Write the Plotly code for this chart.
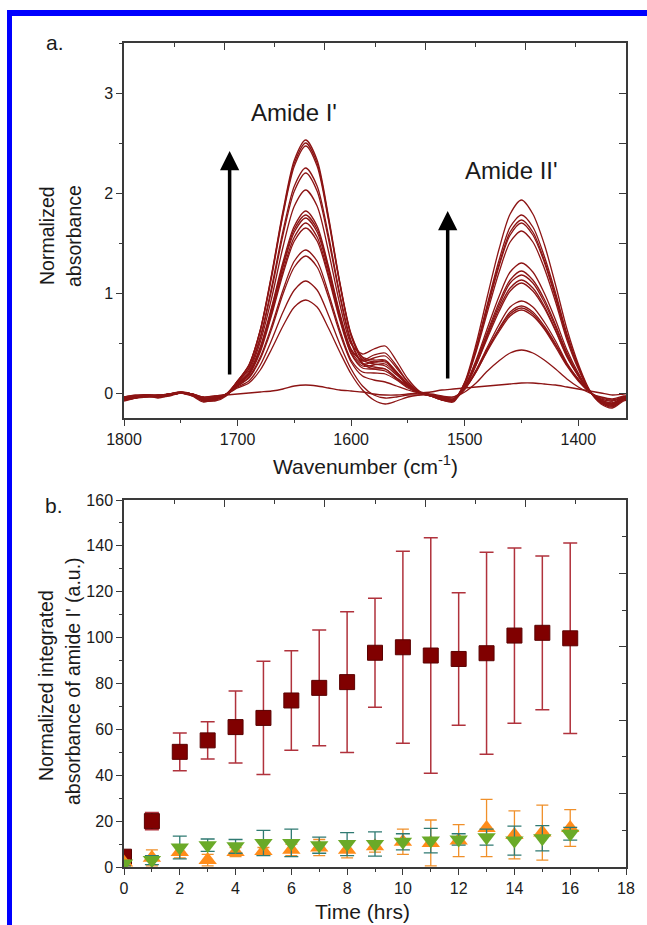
import plotly.graph_objects as go

W, H = 647, 925
def px(x): return x / W
def py(y): return 1 - y / H

FONT = "Liberation Sans, Arial, sans-serif"
TXT = "#1a1a1a"
AX = "#3a3a3a"

# ---------------- panel a: spectra ----------------
wavenumber = [1800,1790,1780,1770,1760,1750,1740,1730,1720,1710,
              1700,1690,1680,1670,1660,1650,1640,1630,1620,1610,
              1600,1590,1580,1570,1560,1550,1540,1530,1520,1510,
              1500,1490,1480,1470,1460,1450,1440,1430,1420,1410,
              1400,1390,1380,1370,1360,1350]

s01 = [-0.07,-0.05,-0.03,-0.04,-0.02,0.00,-0.02,-0.08,-0.07,-0.02, 0.12,0.28,0.63,1.19,1.82,2.33,2.53,2.33,1.77,1.11, 0.59,0.36,0.33,0.33,0.21,0.09,0.00,-0.03,-0.07,-0.08, 0.11,0.49,0.97,1.43,1.79,1.93,1.79,1.49,1.08,0.64, 0.29,0.03,-0.10,-0.14,-0.07,-0.04]
s02 = [-0.06,-0.04,-0.04,-0.03,-0.01,0.01,-0.03,-0.09,-0.06,-0.01, 0.12,0.28,0.63,1.18,1.80,2.30,2.50,2.30,1.75,1.10, 0.58,0.35,0.31,0.31,0.20,0.08,0.00,-0.03,-0.07,-0.08, 0.10,0.45,0.89,1.32,1.66,1.78,1.66,1.37,1.00,0.59, 0.27,0.02,-0.10,-0.13,-0.06,-0.03]
s03 = [-0.08,-0.05,-0.02,-0.04,-0.03,0.00,-0.02,-0.07,-0.08,-0.03, 0.12,0.27,0.62,1.16,1.78,2.27,2.47,2.27,1.73,1.09, 0.57,0.33,0.29,0.27,0.18,0.08,0.00,-0.03,-0.07,-0.09, 0.09,0.44,0.87,1.28,1.61,1.73,1.61,1.33,0.97,0.57, 0.26,0.02,-0.11,-0.15,-0.08,-0.05]
s04 = [-0.06,-0.05,-0.03,-0.03,-0.02,0.00,-0.01,-0.07,-0.06,-0.02, 0.11,0.25,0.56,1.06,1.62,2.07,2.25,2.07,1.58,0.99, 0.52,0.30,0.26,0.24,0.15,0.07,0.00,-0.03,-0.06,-0.07, 0.10,0.43,0.85,1.26,1.58,1.70,1.58,1.31,0.95,0.56, 0.26,0.02,-0.09,-0.13,-0.06,-0.04]
s05 = [-0.07,-0.04,-0.03,-0.05,-0.02,0.01,-0.02,-0.08,-0.06,-0.01, 0.11,0.24,0.55,1.03,1.58,2.02,2.20,2.02,1.54,0.97, 0.50,0.29,0.24,0.22,0.14,0.06,0.00,-0.03,-0.06,-0.08, 0.09,0.41,0.81,1.20,1.51,1.62,1.51,1.25,0.91,0.53, 0.24,0.02,-0.09,-0.12,-0.07,-0.03]
s06 = [-0.05,-0.04,-0.03,-0.03,-0.02,0.00,-0.02,-0.06,-0.06,-0.02, 0.10,0.22,0.51,0.95,1.46,1.87,2.03,1.87,1.42,0.89, 0.49,0.39,0.44,0.47,0.32,0.14,0.02,-0.02,-0.06,-0.07, 0.07,0.33,0.65,0.96,1.21,1.30,1.21,1.00,0.73,0.43, 0.20,0.02,-0.08,-0.11,-0.06,-0.03]
s07 = [-0.07,-0.05,-0.02,-0.04,-0.01,0.00,-0.03,-0.07,-0.05,-0.01, 0.09,0.20,0.46,0.86,1.31,1.67,1.82,1.67,1.27,0.80, 0.44,0.32,0.35,0.37,0.25,0.11,0.01,-0.02,-0.06,-0.07, 0.06,0.31,0.61,0.90,1.13,1.22,1.13,0.94,0.68,0.40, 0.18,0.01,-0.08,-0.11,-0.05,-0.03]
s08 = [-0.06,-0.05,-0.04,-0.03,-0.02,0.00,-0.01,-0.07,-0.07,-0.02, 0.09,0.20,0.45,0.84,1.28,1.64,1.78,1.64,1.25,0.78, 0.43,0.33,0.38,0.40,0.27,0.11,0.01,-0.02,-0.06,-0.07, 0.05,0.30,0.59,0.87,1.10,1.18,1.10,0.91,0.66,0.39, 0.18,0.01,-0.08,-0.12,-0.06,-0.02]
s09 = [-0.05,-0.03,-0.03,-0.03,-0.01,0.00,-0.02,-0.06,-0.05,-0.02, 0.08,0.19,0.44,0.82,1.26,1.61,1.75,1.61,1.23,0.77, 0.42,0.29,0.31,0.32,0.21,0.09,0.01,-0.02,-0.05,-0.06, 0.06,0.28,0.57,0.84,1.05,1.13,1.05,0.87,0.63,0.37, 0.17,0.01,-0.07,-0.10,-0.05,-0.02]
s10 = [-0.06,-0.04,-0.02,-0.04,-0.02,0.01,-0.01,-0.06,-0.06,-0.01, 0.08,0.19,0.43,0.80,1.22,1.56,1.70,1.56,1.19,0.75, 0.40,0.27,0.28,0.29,0.19,0.08,0.01,-0.02,-0.05,-0.06, 0.05,0.28,0.55,0.81,1.02,1.10,1.02,0.85,0.62,0.36, 0.17,0.01,-0.07,-0.10,-0.04,-0.02]
s11 = [-0.05,-0.04,-0.03,-0.03,-0.02,0.00,-0.02,-0.07,-0.05,-0.02, 0.08,0.18,0.41,0.78,1.19,1.52,1.65,1.52,1.16,0.73, 0.39,0.25,0.24,0.24,0.15,0.07,0.00,-0.02,-0.05,-0.07, 0.04,0.23,0.46,0.68,0.86,0.92,0.86,0.71,0.52,0.30, 0.14,0.01,-0.07,-0.10,-0.05,-0.03]
s12 = [-0.05,-0.03,-0.02,-0.03,-0.01,0.00,-0.01,-0.05,-0.05,-0.01, 0.07,0.16,0.36,0.67,1.03,1.32,1.43,1.32,1.00,0.63, 0.33,0.21,0.20,0.19,0.13,0.05,0.00,-0.02,-0.04,-0.06, 0.04,0.22,0.44,0.64,0.81,0.87,0.81,0.67,0.49,0.29, 0.13,0.01,-0.06,-0.08,-0.04,-0.02]
s13 = [-0.04,-0.03,-0.03,-0.02,-0.02,0.00,-0.02,-0.06,-0.04,-0.02, 0.07,0.15,0.34,0.64,0.99,1.26,1.37,1.26,0.96,0.60, 0.31,0.17,0.13,0.11,0.07,0.03,0.00,-0.02,-0.04,-0.06, 0.04,0.21,0.43,0.63,0.79,0.85,0.79,0.65,0.48,0.28, 0.13,0.01,-0.06,-0.08,-0.04,-0.02]
s14 = [-0.04,-0.03,-0.02,-0.03,-0.01,0.00,-0.01,-0.05,-0.04,-0.01, 0.06,0.12,0.28,0.53,0.81,1.03,1.12,1.03,0.78,0.49, 0.24,0.07,-0.02,-0.05,-0.04,-0.02,-0.02,-0.02,-0.04,-0.04, 0.04,0.21,0.42,0.61,0.77,0.83,0.77,0.64,0.46,0.27, 0.12,0.01,-0.05,-0.07,-0.04,-0.02]
s15 = [-0.04,-0.02,-0.02,-0.02,-0.01,0.00,-0.01,-0.04,-0.03,-0.01, 0.05,0.10,0.23,0.44,0.67,0.86,0.93,0.86,0.65,0.41, 0.19,0.03,-0.07,-0.11,-0.08,-0.04,-0.02,-0.01,-0.03,-0.04, 0.01,0.10,0.22,0.32,0.40,0.43,0.40,0.33,0.24,0.14, 0.06,0.00,-0.04,-0.06,-0.03,-0.01]
s16 = [-0.04,-0.03,-0.02,-0.02,-0.01,0.00,-0.01,-0.04,-0.03,-0.02, -0.01,0.00,0.01,0.02,0.04,0.07,0.08,0.07,0.05,0.03, 0.02,0.01,-0.01,-0.02,-0.02,-0.01,0.00,0.01,0.03,0.04, 0.05,0.06,0.07,0.08,0.09,0.10,0.10,0.09,0.08,0.06, 0.04,0.02,0.00,-0.02,-0.01,0.00]
spectra = [s01, s02, s03, s04, s05, s06, s07, s08, s09, s10, s11, s12, s13, s14, s15, s16]

# ---------------- panel b: integrated absorbance ----------------
time_hrs = [0, 1, 2, 3, 4, 5, 6, 7, 8, 9, 10, 11, 12, 13, 14, 15, 16]
red_mean = [4.5, 20.0, 50.2, 55.2, 61.0, 65.0, 72.6, 78.1, 80.6, 93.4, 95.8, 92.2, 90.7, 93.2, 100.9, 102.1, 99.7]
red_err = [1.5, 3.8, 8.2, 8.1, 15.7, 24.7, 21.7, 25.2, 30.7, 23.8, 41.9, 51.3, 28.9, 44.0, 38.2, 33.5, 41.5]
orange_mean = [2.0, 4.0, 6.5, 3.0, 6.5, 7.0, 7.5, 8.5, 7.5, 9.0, 11.0, 10.5, 11.5, 17.0, 14.0, 15.0, 17.0]
orange_err = [1.0, 3.5, 2.5, 2.5, 2.0, 1.5, 2.5, 3.5, 3.5, 2.5, 5.5, 10.0, 7.0, 12.5, 10.5, 12.0, 8.0]
green_mean = [1.5, 3.0, 8.5, 9.5, 9.0, 10.5, 10.5, 9.5, 10.0, 10.0, 11.0, 11.5, 12.0, 13.0, 11.5, 12.5, 14.5]
green_err = [1.0, 2.0, 5.0, 2.7, 3.0, 5.5, 6.0, 3.5, 5.0, 5.3, 3.5, 5.3, 2.5, 3.5, 6.3, 5.5, 2.8]

fig = go.Figure()

for s in spectra:
    fig.add_trace(go.Scatter(x=wavenumber, y=s, mode="lines", xaxis="x", yaxis="y",
                             line=dict(color="#8c1414", width=1.3, shape="spline", smoothing=0.8),
                             hoverinfo="skip", showlegend=False))

fig.add_trace(go.Scatter(x=time_hrs, y=red_mean, mode="markers", xaxis="x2", yaxis="y2",
                         marker=dict(symbol="square", size=15, color="#800000",
                                     line=dict(color="#5a0000", width=1)),
                         error_y=dict(type="data", array=red_err, color="#b0323c", thickness=1.5, width=7),
                         showlegend=False))
fig.add_trace(go.Scatter(x=time_hrs, y=orange_mean, mode="markers", xaxis="x2", yaxis="y2",
                         marker=dict(symbol="triangle-up", size=16, color="#ff8c1a",
                                     line=dict(color="#ff8c1a", width=0)),
                         error_y=dict(type="data", array=orange_err, color="#f0902a", thickness=1.3, width=6),
                         showlegend=False))
fig.add_trace(go.Scatter(x=time_hrs, y=green_mean, mode="markers", xaxis="x2", yaxis="y2",
                         marker=dict(symbol="triangle-down", size=16, color="#6aaa28",
                                     line=dict(color="#6aaa28", width=0)),
                         error_y=dict(type="data", array=green_err, color="#2f7a72", thickness=1.3, width=7),
                         showlegend=False))
# empty traces so the decorative tick-only axes are drawn
for xa, ya in (("x3", "y"), ("x", "y3"), ("x4", "y2"), ("x2", "y4")):
    fig.add_trace(go.Scatter(x=[], y=[], xaxis=xa, yaxis=ya, showlegend=False, hoverinfo="skip"))

XDOM = [px(124), px(626)]
TOP_DOM = [py(418), py(43)]
BOT_DOM = [py(867), py(500)]

tickfont = dict(family=FONT, size=16, color=TXT)
base = dict(showgrid=False, zeroline=False, showline=True, linecolor=AX, linewidth=1.5,
            mirror=True, ticks="outside", tickcolor=AX, tickwidth=1.3, ticklen=6, tickfont=tickfont,
            automargin=False)
deco = dict(showgrid=False, zeroline=False, showline=False, showticklabels=False,
            ticks="inside", tickcolor=AX, tickwidth=1.3, ticklen=7, automargin=False)

fig.update_layout(
    width=W, height=H, margin=dict(l=0, r=0, t=0, b=0, pad=0, autoexpand=False),
    paper_bgcolor="white", plot_bgcolor="white",
    font=dict(family=FONT, color=TXT),
    xaxis=dict(base, domain=XDOM, anchor="y", range=[1800, 1358], dtick=100, tick0=1800,
               minor=dict(dtick=50, ticks="outside", ticklen=3, tickcolor=AX)),
    yaxis=dict(base, domain=TOP_DOM, anchor="x", range=[-0.25, 3.5], dtick=1, tick0=0,
               minor=dict(dtick=0.5, ticks="outside", ticklen=3, tickcolor=AX)),
    xaxis3=dict(deco, overlaying="x", anchor="y", side="top", range=[0, 1],
                tickvals=[0.2, 0.4, 0.6, 0.8],
                minor=dict(tickvals=[0.1, 0.3, 0.5, 0.7, 0.9], ticks="inside", ticklen=4, tickcolor=AX)),
    yaxis3=dict(deco, overlaying="y", anchor="x", side="right", range=[-0.25, 3.5], dtick=0.5, tick0=0),
    xaxis2=dict(base, domain=XDOM, anchor="y2", range=[0, 18], dtick=2, tick0=0,
                minor=dict(dtick=1, ticks="outside", ticklen=3, tickcolor=AX)),
    yaxis2=dict(base, domain=BOT_DOM, anchor="x2", range=[0, 160], dtick=20, tick0=0,
                minor=dict(dtick=10, ticks="outside", ticklen=3, tickcolor=AX)),
    xaxis4=dict(deco, overlaying="x2", anchor="y2", side="top", range=[0, 1],
                tickvals=[0.2, 0.4, 0.6, 0.8],
                minor=dict(tickvals=[0.1, 0.3, 0.5, 0.7, 0.9], ticks="inside", ticklen=4, tickcolor=AX)),
    yaxis4=dict(deco, overlaying="y2", anchor="x2", side="right", range=[0, 1],
                tickvals=[0.2, 0.4, 0.6, 0.8],
                minor=dict(tickvals=[0.1, 0.3, 0.5, 0.7, 0.9], ticks="inside", ticklen=4, tickcolor=AX)),
)

# arrows (panel a)
arrow_specs = [(1707, 0.17, 2.42), (1515, 0.13, 1.82)]
for xw, y0, y1 in arrow_specs:
    fig.add_annotation(x=xw, y=y1, ax=xw, ay=y0, xref="x", yref="y", axref="x", ayref="y",
                       showarrow=True, arrowhead=2, arrowsize=1.1, arrowwidth=3.5,
                       arrowcolor="black", text="")

ann = [
    dict(text="Amide I'", x=1650, y=2.80, xref="x", yref="y", size=24),
    dict(text="Amide II'", x=1459, y=2.22, xref="x", yref="y", size=24),
]
for a in ann:
    fig.add_annotation(text=a["text"], x=a["x"], y=a["y"], xref=a["xref"], yref=a["yref"],
                       showarrow=False, font=dict(family=FONT, size=a["size"], color=TXT),
                       xanchor="center", yanchor="middle")

paper_txt = [
    ("a.", 55, 43, 0, 21),
    ("b.", 54, 505, 0, 21),
    ("Wavenumber (cm<sup>-1</sup>)", 365, 465, 0, 21),
    ("Time (hrs)", 362, 911, 0, 21),
    ("Normalized", 47, 236, -90, 19.5),
    ("absorbance", 74, 236, -90, 19.5),
    ("Normalized integrated", 46, 686, -90, 19.5),
    ("absorbance of amide I' (a.u.)", 73, 681, -90, 19.5),
]
for t, x, y, ang, sz in paper_txt:
    fig.add_annotation(text=t, x=px(x), y=py(y), xref="paper", yref="paper", showarrow=False,
                       textangle=ang, xanchor="center", yanchor="middle",
                       font=dict(family=FONT, size=sz, color=TXT))

# blue frame of the figure
fig.add_shape(type="rect", xref="paper", yref="paper", x0=px(7), x1=1.0, y0=py(16), y1=py(10),
              fillcolor="#0000ff", line=dict(width=0), layer="above")
fig.add_shape(type="rect", xref="paper", yref="paper", x0=px(7), x1=px(12), y0=0.0, y1=py(10),
              fillcolor="#0000ff", line=dict(width=0), layer="above")

fig.write_html("out.html", config={"displayModeBar": False},
               post_script="document.body.style.margin='0';document.body.style.overflow='hidden';")
